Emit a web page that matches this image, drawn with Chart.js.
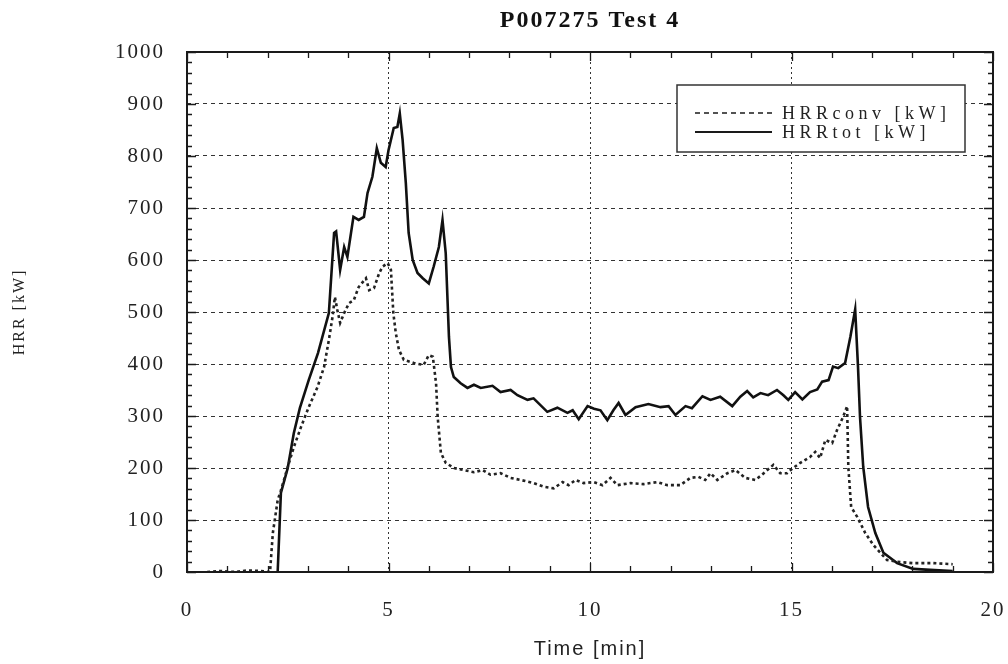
<!DOCTYPE html>
<html>
<head>
<meta charset="utf-8">
<script src="https://cdn.jsdelivr.net/npm/chart.js@4.4.1/dist/chart.umd.min.js"></script>
<style>
  html, body { margin: 0; padding: 0; background: #ffffff; }
  canvas { display: block; }
</style>
</head>
<body>
<canvas id="c" width="1008" height="664"></canvas>
<script>
// ---- data ----
const chartTitle = 'P007275 Test 4';
const xTitle = 'Time [min]';
const yTitle = 'HRR [kW]';
const seriesNames = ['HRRconv [kW]', 'HRRtot [kW]'];

const timeConv = [0.5,0.8,1.2,1.5,1.8,2.06,2.13,2.25,2.33,2.5,2.65,2.83,3.02,3.24,3.4,3.52,3.61,3.67,3.73,3.8,3.9,4.02,4.14,4.26,4.44,4.52,4.64,4.77,4.85,4.98,5.06,5.12,5.18,5.26,5.38,5.63,5.87,6.0,6.1,6.18,6.22,6.3,6.42,6.62,6.87,7.12,7.34,7.53,7.78,8.03,8.28,8.6,8.85,9.1,9.32,9.47,9.64,9.84,10.09,10.31,10.51,10.68,11.0,11.33,11.67,11.92,12.24,12.49,12.69,12.86,12.99,13.16,13.41,13.61,13.85,14.1,14.27,14.4,14.55,14.72,14.89,15.04,15.22,15.46,15.59,15.71,15.84,16.01,16.13,16.28,16.38,16.41,16.48,16.63,16.83,17.03,17.37,17.7,18.02,18.52,19.0];
const hrrConv = [0,2,0,3,2,0,75,138,157,202,240,279,317,356,394,446,490,529,504,479,498,517,523,548,565,542,546,575,587,594,581,498,460,427,408,402,398,417,414,363,298,229,210,200,196,192,196,187,190,181,177,171,164,161,173,167,177,171,173,167,181,167,171,169,173,167,167,181,183,177,190,177,190,196,181,177,187,196,206,190,190,200,210,221,231,219,254,248,273,298,319,202,125,106,75,52,23,19,17,17,15];

const timeTot = [2.25,2.33,2.5,2.65,2.8,3.02,3.25,3.52,3.65,3.7,3.8,3.9,3.98,4.13,4.26,4.39,4.48,4.6,4.71,4.81,4.93,5.0,5.13,5.22,5.28,5.35,5.43,5.5,5.6,5.72,5.85,6.0,6.12,6.25,6.34,6.42,6.5,6.55,6.62,6.79,6.96,7.12,7.29,7.58,7.78,8.03,8.2,8.45,8.6,8.94,9.19,9.44,9.57,9.72,9.94,10.1,10.26,10.43,10.58,10.71,10.88,11.13,11.45,11.75,11.95,12.12,12.37,12.53,12.79,12.99,13.23,13.53,13.73,13.9,14.05,14.23,14.42,14.64,14.8,14.92,15.09,15.27,15.46,15.64,15.76,15.92,16.03,16.16,16.33,16.46,16.58,16.65,16.7,16.78,16.9,17.08,17.28,17.62,18.02,18.44,19.0];
const hrrTot = [0,152,200,267,315,369,421,498,652,655,581,625,606,683,677,683,729,760,815,787,779,811,854,856,882,831,748,652,600,575,565,555,587,625,677,613,452,394,375,363,354,360,354,358,346,350,340,331,334,308,316,306,311,294,319,314,311,292,311,325,302,317,323,317,319,302,319,315,338,331,337,319,337,348,336,344,340,350,340,331,346,332,346,351,366,369,395,392,402,452,505,395,298,202,125,75,37,17,6,4,2];

const xTicks = [0, 5, 10, 15, 20];
const yTicks = [0, 100, 200, 300, 400, 500, 600, 700, 800, 900, 1000];

// ---- helpers ----
const toPoints = (xs, ys) => xs.map((x, i) => ({ x: x, y: ys[i] }));
const INK = '#1a1a1a';

function setSpacing(chart) {
  try { chart.ctx.letterSpacing = '2px'; } catch (e) {}
}

const spacingPlugin = {
  id: 'spacing',
  beforeLayout: setSpacing,
  beforeUpdate: setSpacing,
  beforeDraw: setSpacing
};

const framePlugin = {
  id: 'frame',
  afterDatasetsDraw(chart) {
    const { ctx, chartArea: a, scales } = chart;
    const xs = scales.x, ys = scales.y;
    ctx.save();
    ctx.strokeStyle = INK;
    ctx.setLineDash([]);
    ctx.lineWidth = 1.3;
    ctx.beginPath();
    for (let v = 0; v <= 1000; v += 20) {
      const y = Math.round(ys.getPixelForValue(v)) + 0.5;
      const len = (v % 100 === 0) ? 9 : 5;
      ctx.moveTo(a.left, y); ctx.lineTo(a.left + len, y);
      ctx.moveTo(a.right, y); ctx.lineTo(a.right - len, y);
    }
    for (let t = 0; t <= 20; t += 1) {
      const x = Math.round(xs.getPixelForValue(t)) + 0.5;
      const len = (t % 5 === 0) ? 9 : 6;
      ctx.moveTo(x, a.bottom); ctx.lineTo(x, a.bottom - len);
      ctx.moveTo(x, a.top); ctx.lineTo(x, a.top + len);
    }
    ctx.stroke();
    ctx.lineWidth = 2;
    ctx.strokeRect(a.left, a.top, a.right - a.left, a.bottom - a.top);
    ctx.restore();
  }
};

const legendPlugin = {
  id: 'boxLegend',
  afterDatasetsDraw(chart) {
    const { ctx, chartArea: a } = chart;
    const bx = a.left + (677 - 187), by = a.top + (85 - 52);
    const bw = 288, bh = 67;
    ctx.save();
    ctx.fillStyle = '#ffffff';
    ctx.fillRect(bx, by, bw, bh);
    ctx.strokeStyle = '#333';
    ctx.lineWidth = 1.5;
    ctx.setLineDash([]);
    ctx.strokeRect(bx, by, bw, bh);
    const rows = [by + 28, by + 47];
    chart.data.datasets.forEach((ds, i) => {
      const y = rows[i];
      ctx.beginPath();
      ctx.strokeStyle = INK;
      ctx.lineWidth = i === 0 ? 1.6 : 2;
      ctx.setLineDash(i === 0 ? [5, 4] : []);
      ctx.moveTo(bx + 18, y);
      ctx.lineTo(bx + 95, y);
      ctx.stroke();
      ctx.setLineDash([]);
      try { ctx.letterSpacing = '4.5px'; } catch (e) {}
      ctx.fillStyle = '#222';
      ctx.font = '18px "Liberation Serif", "DejaVu Serif", serif';
      ctx.textAlign = 'left';
      ctx.textBaseline = 'middle';
      ctx.fillText(ds.label, bx + 105, y + 1);
    });
    ctx.restore();
    setSpacing(chart);
  }
};

const canvas = document.getElementById('c');
new Chart(canvas, {
  type: 'line',
  data: {
    datasets: [
      {
        label: seriesNames[0],
        data: toPoints(timeConv, hrrConv),
        borderColor: '#222',
        borderWidth: 2.6,
        borderDash: [3, 3],
        pointRadius: 0,
        tension: 0,
        fill: false
      },
      {
        label: seriesNames[1],
        data: toPoints(timeTot, hrrTot),
        borderColor: '#111',
        borderWidth: 2.6,
        pointRadius: 0,
        tension: 0,
        fill: false
      }
    ]
  },
  options: {
    responsive: false,
    animation: false,
    devicePixelRatio: 1,
    layout: { padding: { left: 0, right: 15, top: 0, bottom: 0 } },
    plugins: {
      legend: { display: false },
      tooltip: { enabled: false },
      title: {
        display: true,
        text: chartTitle,
        fullSize: false,
        color: '#111',
        font: { family: '"Liberation Serif", "DejaVu Serif", serif', size: 24, weight: 'bold', lineHeight: 1.2 },
        padding: { top: 6, bottom: 17.2 }
      }
    },
    scales: {
      x: {
        type: 'linear',
        min: 0,
        max: 20,
        afterBuildTicks(scale) { scale.ticks = xTicks.map(v => ({ value: v })); },
        afterFit(scale) { scale.height = 92; scale.paddingLeft = 0; scale.paddingRight = 0; },
        ticks: {
          color: '#222',
          padding: 26,
          maxRotation: 0,
          autoSkip: false,
          callback: (v) => String(v),
          font: { family: '"Liberation Serif", "DejaVu Serif", serif', size: 21 }
        },
        grid: { color: '#333', lineWidth: 1, drawTicks: false },
        border: { display: false, dash: [2, 3] },
        title: {
          display: true,
          text: xTitle,
          color: '#222',
          font: { family: '"Liberation Sans", Arial, sans-serif', size: 20, lineHeight: 1.2 },
          padding: { top: 0, bottom: 3 }
        }
      },
      y: {
        type: 'linear',
        min: 0,
        max: 1000,
        afterBuildTicks(scale) { scale.ticks = yTicks.map(v => ({ value: v })); },
        afterFit(scale) { scale.width = 187; scale.paddingTop = 0; scale.paddingBottom = 0; },
        ticks: {
          color: '#222',
          padding: 22,
          autoSkip: false,
          callback: (v) => String(v),
          font: { family: '"Liberation Serif", "DejaVu Serif", serif', size: 21 }
        },
        grid: { color: '#333', lineWidth: 1, drawTicks: false },
        border: { display: false, dash: [4, 4] },
        title: {
          display: true,
          text: yTitle,
          color: '#222',
          font: { family: '"Liberation Serif", "DejaVu Serif", serif', size: 16, lineHeight: 1.2 },
          padding: { top: 10, bottom: 0 }
        }
      }
    }
  },
  plugins: [spacingPlugin, framePlugin, legendPlugin]
});
</script>
</body>
</html>
